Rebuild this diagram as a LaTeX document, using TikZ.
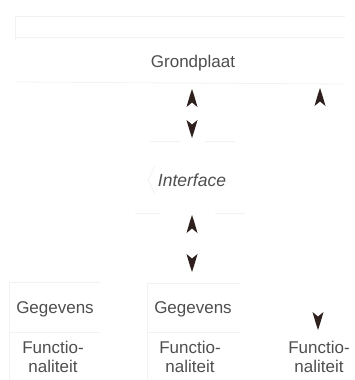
\documentclass[tikz,border=0pt]{standalone}
\usepackage{fontspec}
\setmainfont{Liberation Sans}
\definecolor{txtgray}{HTML}{4E4E4E}
\definecolor{tipdark}{HTML}{2E211D}
\definecolor{ghost}{HTML}{F2F2F2}
\begin{document}
\begin{tikzpicture}[x=1pt,y=-1pt,
  lbl/.style={inner sep=0pt, text=txtgray, font=\fontsize{17}{19}\selectfont},
  stacked/.style={lbl, align=center},
  ghostline/.style={draw=ghost, line width=0.8pt},
  tipup/.pic={\fill[tipdark] (0,0) .. controls (2,6) .. (5.5,18) -- (0,13.5) -- (-5.5,18) .. controls (-2,6) .. cycle;},
  tipdown/.pic={\fill[tipdark] (0,0) .. controls (2,-6) .. (5.5,-18) -- (0,-13.5) -- (-5.5,-18) .. controls (-2,-6) .. cycle;}]
\useasboundingbox (0,0) rectangle (354,380);

% faint frame lines of the layers
\draw[ghostline] (15,16) -- (345,16);
\draw[ghostline] (15,37) -- (345,37);
\draw[ghostline] (15,16) -- (15,40);
\draw[ghostline] (15,82) -- (345,84);
\draw[ghostline] (150,141) -- (180,141) (205,141) -- (235,141);
\draw[ghostline] (155,166) -- (148,180) -- (155,194);
\draw[ghostline] (135,213) -- (160,213) (215,213) -- (245,213);
\draw[ghostline] (9,282) -- (100,282) (9,282) -- (9,380) (9,332) -- (100,332);
\draw[ghostline] (147,283) -- (240,283) (147,283) -- (147,380) (147,332) -- (240,332);

% layer labels
\node[lbl] (grond) at (193,63) {Grondplaat};
\node[lbl, font=\fontsize{17.5}{19}\selectfont\itshape] (intf) at (192,180) {Interface};
\node[lbl] (geg1) at (55,309) {Gegevens};
\node[lbl] (geg2) at (193,309) {Gegevens};
\node[stacked] (fun1) at (53,357) {Functio-\\naliteit};
\node[stacked] (fun2) at (190,357) {Functio-\\naliteit};
\node[stacked] (fun3) at (319,357) {Functio-\\naliteit};

% arrow tips between the layers
\coordinate (a1) at (192,89);
\coordinate (a2) at (192,138);
\coordinate (a3) at (320,88);
\coordinate (a4) at (192,215);
\coordinate (a5) at (192,272);
\coordinate (a6) at (318,330);
\pic at (a1) {tipup};
\pic at (a2) {tipdown};
\pic at (a3) {tipup};
\pic at (a4) {tipup};
\pic at (a5) {tipdown};
\pic at (a6) {tipdown};
\end{tikzpicture}
\end{document}
